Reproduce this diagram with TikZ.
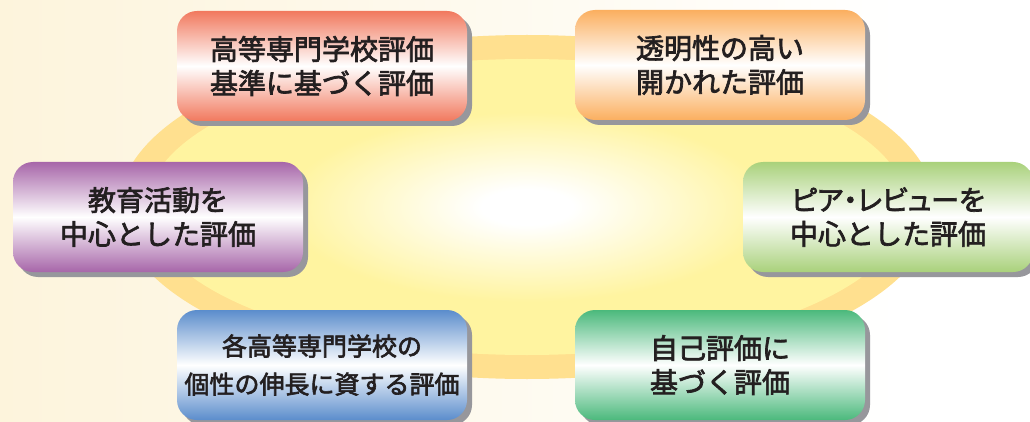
\documentclass[tikz,border=0pt]{standalone}
\usepackage{fontspec}
\setmainfont{Noto Sans CJK JP}[FakeBold=2.5]
\usetikzlibrary{shadows}
\definecolor{bgcream}{HTML}{FDF4DC}
\definecolor{ringorange}{HTML}{FFE08F}
\definecolor{ellyellow}{HTML}{FFF4A0}
\definecolor{shadowgray}{HTML}{97979C}
\definecolor{textgray}{HTML}{231F20}
\definecolor{redbox}{HTML}{F1795E}
\definecolor{orangebox}{HTML}{FBAF5F}
\definecolor{purplebox}{HTML}{A766A9}
\definecolor{limebox}{HTML}{A9D17B}
\definecolor{bluebox}{HTML}{5B8DCC}
\definecolor{greenbox}{HTML}{4BB97C}
\pgfdeclareradialshading{ellglow}{\pgfpoint{0bp}{0bp}}{color(0bp)=(white);
  color(3bp)=(white); color(16bp)=(ellyellow); color(50bp)=(ellyellow)}

\begin{document}
\begin{tikzpicture}[x=1pt, y=-1pt,
  evalbox/.style={rectangle, rounded corners=20pt, minimum width=290pt,
    minimum height=110pt, inner sep=0pt, align=center, text=textgray,
    font=\fontsize{28}{34}\selectfont,
    drop shadow={shadow xshift=5pt, shadow yshift=-5pt,
      fill=shadowgray, opacity=1}},
  evalshade/.style={top color=#1, bottom color=#1, middle color=white}]
%background
\useasboundingbox (0,0) rectangle (1030,422);
\fill[white] (0,0) rectangle (1030,422);
\shade[left color=bgcream, right color=white] (0,0) rectangle (900,422);
%ellipse
\fill[ringorange] (527,207) ellipse [x radius=408, y radius=172];
\shade[shading=ellglow] (527,207) ellipse [x radius=380, y radius=148];
%top row
\node[evalbox, evalshade=redbox] (kijun) at (322,66)
  {高等専門学校評価\\基準に基づく評価};
\node[evalbox, evalshade=orangebox] (toumei) at (720,65)
  {透明性の高い\\開かれた評価};
%middle row
\node[evalbox, evalshade=purplebox] (kyouiku) at (158,217)
  {教育活動を\\中心とした評価};
\node[evalbox, evalshade=limebox] (peer) at (888,217)
  {\addfontfeatures{CharacterWidth=AlternateProportional}ピア・レビューを\\
   中心とした評価};
%bottom row
\node[evalbox, evalshade=bluebox, font=\fontsize{25}{38}\selectfont] (kosei)
  at (322,365) {各高等専門学校の\\個性の伸長に資する評価};
\node[evalbox, evalshade=greenbox] (jiko) at (720,365)
  {自己評価に\\基づく評価};
\end{tikzpicture}
\end{document}
